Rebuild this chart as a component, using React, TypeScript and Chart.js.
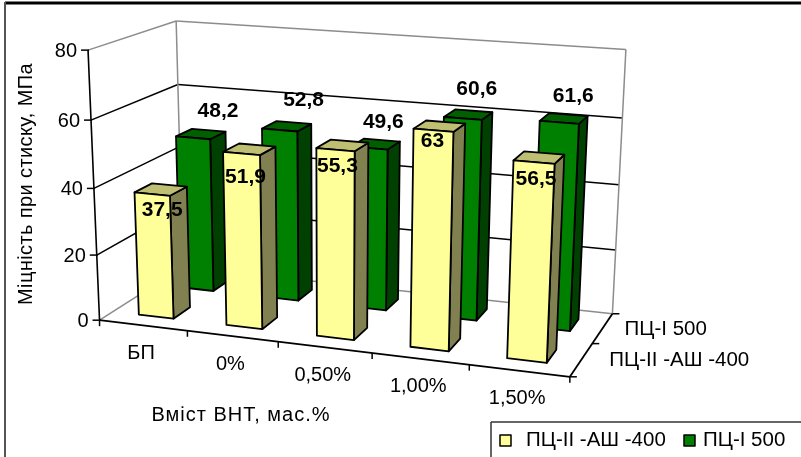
import { useEffect, useRef } from "react";
import { Chart, registerables } from "chart.js";

Chart.register(...registerables);

const categories = ["БП", "0%", "0,50%", "1,00%", "1,50%"];
const seriesNames = ["ПЦ-II -АШ -400", "ПЦ-I 500"];
const cementAsh400 = [37.5, 51.9, 55.3, 63, 56.5];
const cement500 = [48.2, 52.8, 49.6, 60.6, 61.6];
const valueTicks = [0, 20, 40, 60, 80];
const yAxisTitle = "Міцність при стиску, МПа";
const xAxisTitle = "Вміст ВНТ, мас.%";

type Pt = [number, number];

// Calibration points of the box, as [u, v, w, x, y]: u along categories, v up, w into the page.
const boxCorners: [number, number, number, number, number][] = [
  [0, 0, 0, 99, 319],
  [1, 0, 0, 569, 377],
  [1, 0, 1, 613, 314],
  [0, 0, 1, 184, 270],
  [0, 1, 0, 88, 51],
  [1, 1, 0, 585, 89],
  [1, 1, 1, 625, 48],
  [0, 1, 1, 176, 21],
  [0, 0.75, 0, 91, 119],
  [0, 0.5, 0, 93, 187],
  [0, 0.25, 0, 97, 254],
  [1, 0.75, 1, 622, 116],
  [1, 0.5, 1, 618, 184],
  [1, 0.25, 1, 616, 250],
  [0, 0.75, 1, 178, 85],
];

// Least-squares fit of a projective camera through the calibration points.
function fitCamera(corners: typeof boxCorners): number[] {
  const n = 11;
  const ata = Array.from({ length: n }, () => new Array(n + 1).fill(0));
  const addRow = (r: number[], b: number) => {
    for (let i = 0; i < n; i++) {
      for (let j = 0; j < n; j++) ata[i][j] += r[i] * r[j];
      ata[i][n] += r[i] * b;
    }
  };
  for (const [u, v, w, x, y] of corners) {
    addRow([u, v, w, 1, 0, 0, 0, 0, -x * u, -x * v, -x * w], x);
    addRow([0, 0, 0, 0, u, v, w, 1, -y * u, -y * v, -y * w], y);
  }
  for (let c = 0; c < n; c++) {
    let p = c;
    for (let r = c + 1; r < n; r++) if (Math.abs(ata[r][c]) > Math.abs(ata[p][c])) p = r;
    [ata[c], ata[p]] = [ata[p], ata[c]];
    for (let r = 0; r < n; r++) {
      if (r === c) continue;
      const f = ata[r][c] / ata[c][c];
      for (let k = c; k <= n; k++) ata[r][k] -= f * ata[c][k];
    }
  }
  return ata.map((row, i) => row[n] / row[i]);
}

const cam = fitCamera(boxCorners);
const project = (u: number, v: number, w: number): Pt => {
  const d = cam[8] * u + cam[9] * v + cam[10] * w + 1;
  return [
    (cam[0] * u + cam[1] * v + cam[2] * w + cam[3]) / d,
    (cam[4] * u + cam[5] * v + cam[6] * w + cam[7]) / d,
  ];
};

const FONT = '"Liberation Sans", Arial, sans-serif';
const GREY = "#8c8c8c";
const BAR_DEPTH = 0.2;

const faces = [
  { front: "#FFFF99", side: "#808050", top: "#BFBF73" },
  { front: "#008000", side: "#004000", top: "#006000" },
];

// Hand placement of the value labels, in pixels from the bar's top centre.
const labelOffsets: Pt[][] = [
  [[10, 16], [4, 24], [2, 16], [-1, 11], [2, 17]],
  [[25, -27], [24, -30], [14, -26], [14, -29], [14, -26]],
];

function line(ctx: CanvasRenderingContext2D, a: Pt, b: Pt, color: string, width: number) {
  ctx.beginPath();
  ctx.moveTo(a[0], a[1]);
  ctx.lineTo(b[0], b[1]);
  ctx.strokeStyle = color;
  ctx.lineWidth = width;
  ctx.stroke();
}

function poly(ctx: CanvasRenderingContext2D, pts: Pt[], fill: string) {
  ctx.beginPath();
  pts.forEach((p, i) => (i ? ctx.lineTo(p[0], p[1]) : ctx.moveTo(p[0], p[1])));
  ctx.closePath();
  ctx.fillStyle = fill;
  ctx.fill();
  ctx.strokeStyle = "#000";
  ctx.lineWidth = 1.8;
  ctx.lineJoin = "round";
  ctx.stroke();
}

function text(
  ctx: CanvasRenderingContext2D,
  s: string,
  x: number,
  y: number,
  font: string,
  align: CanvasTextAlign = "center",
  spacing = 0,
) {
  ctx.font = font;
  (ctx as any).letterSpacing = `${spacing}px`;
  ctx.fillStyle = "#000";
  ctx.textAlign = align;
  ctx.textBaseline = "middle";
  ctx.fillText(s, x, y);
  (ctx as any).letterSpacing = "0px";
}

const boxPlugin = {
  id: "box3d",
  // The flat bars give the geometry; the faces are drawn after the frame below.
  beforeDatasetDraw: () => false,
  beforeDatasetsDraw(chart: any) {
    const ctx: CanvasRenderingContext2D = chart.ctx;
    const { x: xs, y: ys, z: zs } = chart.scales;
    const vOf = (val: number) => ys.getDecimalForPixel(ys.getPixelForValue(val));

    ctx.save();
    ctx.lineCap = "butt";

    // Outer frame of the chart object
    line(ctx, [5, 3], [801, 3], "#000", 3);
    line(ctx, [5, 2], [5, 457], "#555", 2);

    // Walls and gridlines
    for (const val of valueTicks) {
      const v = vOf(val);
      const edge = val === 0 || val === 80;
      line(ctx, project(0, v, 0), project(0, v, 1), edge ? GREY : "#000", 1.5);
      line(ctx, project(0, v, 1), project(1, v, 1), edge ? GREY : "#000", 1.5);
    }
    line(ctx, project(0, 0, 1), project(0, 1, 1), GREY, 1.5);
    line(ctx, project(1, 0, 1), project(1, 1, 1), GREY, 1.5);

    // Value axis, with ticks and labels
    line(ctx, project(0, 0, 0), project(0, 1, 0), "#000", 1.6);
    for (const t of ys.ticks) {
      const p = project(0, vOf(t.value), 0);
      line(ctx, [p[0] - 7, p[1]], [p[0] + 1, p[1]], "#000", 1.5);
      text(ctx, String(t.value), p[0] - 11, p[1] + 1, `20px ${FONT}`, "right");
    }

    // Category axis
    line(ctx, project(0, 0, 0), project(1, 0, 0), "#000", 1.8);
    const n = categories.length;
    for (let i = 0; i <= n; i++) {
      const p = project(i / n, 0, 0);
      line(ctx, p, [p[0], p[1] + 6], "#000", 1.5);
    }
    categories.forEach((c, i) => {
      const u = xs.getDecimalForPixel(xs.getPixelForValue(i));
      const p = project(u, 0, 0);
      text(ctx, c, p[0] - 2, p[1] + 28, `20px ${FONT}`);
    });

    // Depth axis
    line(ctx, project(1, 0, 0), project(1, 0, 1), "#000", 1.8);
    [0, 0.5, 1].forEach((w) => {
      const p = project(1, 0, w);
      line(ctx, p, [p[0] + 7, p[1]], "#000", 1.5);
    });
    zs.ticks.forEach((t: any, i: number) => {
      const w = zs.getDecimalForPixel(zs.getPixelForTick(i));
      const p = project(1, 0, w);
      text(ctx, zs.getLabelForValue(t.value), p[0] + 28 - 6 * i, p[1] + 1, `20.5px ${FONT}`, "left");
    });

    // Bars, rear series first
    for (let d = chart.data.datasets.length - 1; d >= 0; d--) {
      const meta = chart.getDatasetMeta(d);
      const wc = zs.getDecimalForPixel(zs.getPixelForTick(d));
      const w0 = wc - BAR_DEPTH / 2;
      const w1 = wc + BAR_DEPTH / 2;
      meta.data.forEach((bar: any) => {
        const u0 = xs.getDecimalForPixel(bar.x - bar.width / 2);
        const u1 = xs.getDecimalForPixel(bar.x + bar.width / 2);
        const vt = ys.getDecimalForPixel(bar.y);
        const vb = ys.getDecimalForPixel(bar.base);
        const c = faces[d];
        poly(ctx, [project(u1, vb, w0), project(u1, vb, w1), project(u1, vt, w1), project(u1, vt, w0)], c.side);
        poly(ctx, [project(u0, vt, w0), project(u1, vt, w0), project(u1, vt, w1), project(u0, vt, w1)], c.top);
        poly(ctx, [project(u0, vb, w0), project(u1, vb, w0), project(u1, vt, w0), project(u0, vt, w0)], c.front);
      });
    }

    // Value labels go over every bar
    chart.data.datasets.forEach((ds: any, d: number) => {
      const meta = chart.getDatasetMeta(d);
      const w0 = zs.getDecimalForPixel(zs.getPixelForTick(d)) - BAR_DEPTH / 2;
      meta.data.forEach((bar: any, i: number) => {
        const u = xs.getDecimalForPixel(bar.x);
        const p = project(u, ys.getDecimalForPixel(bar.y), w0);
        const off = labelOffsets[d][i];
        text(ctx, String(ds.data[i]).replace(".", ","), p[0] + off[0], p[1] + off[1], `bold 21px ${FONT}`);
      });
    });

    // Axis titles
    text(ctx, xAxisTitle, 241, 415, `20px ${FONT}`, "center", 1);
    ctx.save();
    ctx.translate(26, 184);
    ctx.rotate(-Math.PI / 2);
    text(ctx, yAxisTitle, 0, 0, `20px ${FONT}`, "center", 0.4);
    ctx.restore();

    // Legend box
    ctx.fillStyle = "#fff";
    ctx.fillRect(491, 422, 310, 35);
    line(ctx, [491, 422], [801, 422], "#333", 1.5);
    line(ctx, [491, 422], [491, 457], "#333", 1.5);
    const swatch = (x: number, col: string) => {
      ctx.fillStyle = col;
      ctx.fillRect(x, 435, 11, 11);
      ctx.strokeStyle = "#000";
      ctx.lineWidth = 1.5;
      ctx.strokeRect(x, 435, 11, 11);
    };
    swatch(500, faces[0].front);
    text(ctx, seriesNames[0], 526, 440, `20.5px ${FONT}`, "left");
    swatch(684, faces[1].front);
    text(ctx, seriesNames[1], 703, 440, `20.5px ${FONT}`, "left");

    ctx.restore();
  },
};

export default function App() {
  const ref = useRef<HTMLCanvasElement | null>(null);
  useEffect(() => {
    document.body.style.margin = "0";
    const chart = new Chart(ref.current!, {
      type: "bar",
      data: {
        labels: categories,
        datasets: [
          { label: seriesNames[0], data: cementAsh400, backgroundColor: faces[0].front },
          { label: seriesNames[1], data: cement500, backgroundColor: faces[1].front },
        ],
      },
      options: {
        responsive: false,
        animation: false,
        layout: { padding: 0 },
        datasets: { bar: { grouped: false, categoryPercentage: 1, barPercentage: 0.4 } },
        plugins: { legend: { display: false }, tooltip: { enabled: false } },
        scales: {
          x: { type: "category", display: false, offset: true },
          y: { type: "linear", display: false, min: 0, max: 80, ticks: { stepSize: 20 } },
          z: { type: "category", axis: "y", display: false, labels: seriesNames, offset: true },
        },
      } as any,
      plugins: [boxPlugin],
    });
    return () => chart.destroy();
  }, []);
  return <canvas ref={ref} width={801} height={457} style={{ display: "block" }} />;
}
